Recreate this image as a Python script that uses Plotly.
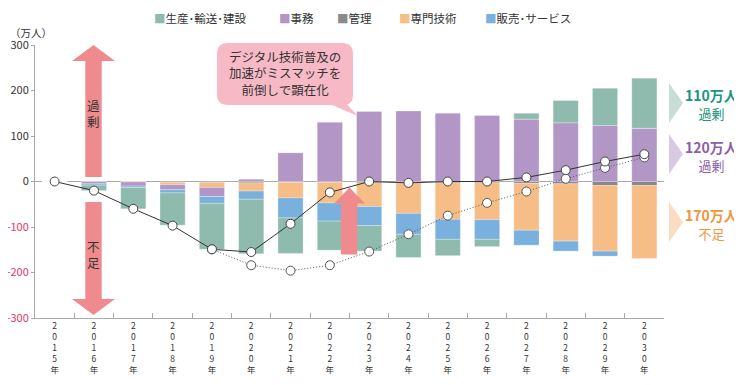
import plotly.graph_objects as go

years = [str(y) for y in range(2015, 2031)]
tick_text = ["<br>".join(list(y)) + "<br>年" for y in years]

# 万人, by occupation
seisan = [0, -12, -47, -71, -101, -120, -78, -64, -56, -51, -36, -16, 13, 49, 82, 110]
jimu = [0, -5, -9, -11, -20, 5, 63, 130, 154, 155, 150, 145, 137, 129, 123, 117]
kanri = [0, 0, 0, -2, -2, -3, -2, -2, -3, -3, -3, -3, -4, -5, -9, -9]
senmon = [0, 0, -1, -5, -11, -18, -34, -45, -52, -67, -80, -81, -103, -126, -144, -160]
hanbai = [0, -3, -3, -7, -15, -18, -44, -40, -42, -46, -44, -43, -33, -22, -11, 0]

total_line = [0, -20, -60, -97, -149, -155, -93, -24, 0, -3, 0, 0, 9, 25, 44, 60]
total_dotted = [None, None, None, None, -149, -184, -196, -184, -154, -116, -75, -47, -22, 6, 30, 53]

y_ticks = [-300, -200, -100, 0, 100, 200, 300]

C_GREEN = "#8fbbaf"
C_PURPLE = "#b196c6"
C_GRAY = "#8a8a8a"
C_ORANGE = "#f6bd86"
C_BLUE = "#79b0de"

FONT = "Noto Sans CJK JP"

# page body margin offset (the figure sits 8px in from the window corner)
OFF = 8
W, H = 742 - OFF, 377 - OFF
# plot area in window pixels: x 35..664, y 45..318
L, T = 35 - OFF, 45 - OFF
R = W - (664 - OFF)
B = H - (318 - OFF)
PW, PH = W - L - R, H - T - B


def px(x):
    return (x - OFF - L) / PW


def py(y):
    return (H - B - (y - OFF)) / PH


def path(points, close=True):
    s = ""
    for i, p in enumerate(points):
        if p[0] == "Q":
            s += " Q%.5f,%.5f %.5f,%.5f" % (px(p[1]), py(p[2]), px(p[3]), py(p[4]))
        else:
            s += (" M" if i == 0 else " L") + "%.5f,%.5f" % (px(p[0]), py(p[1]))
    return s + (" Z" if close else "")


fig = go.Figure()
bar_line = dict(color="rgba(255,255,255,0.45)", width=0.6)
for name, vals, col in [
    ("管理", kanri, C_GRAY),
    ("専門技術", senmon, C_ORANGE),
    ("事務", jimu, C_PURPLE),
    ("販売･サービス", hanbai, C_BLUE),
    ("生産･輸送･建設", seisan, C_GREEN),
]:
    fig.add_trace(go.Bar(x=years, y=vals, name=name, marker=dict(color=col, line=bar_line), showlegend=False))

fig.add_trace(go.Scatter(x=years, y=total_dotted, mode="lines+markers", showlegend=False,
                         line=dict(color="#555555", width=1, dash="1px,2px"),
                         marker=dict(size=9, color="white", line=dict(color="#555555", width=1))))
fig.add_trace(go.Scatter(x=years, y=total_line, mode="lines+markers", showlegend=False,
                         line=dict(color="#333333", width=1),
                         marker=dict(size=9, color="white", line=dict(color="#444444", width=1))))

shapes = []
RED = "#ef8b8e"
# big left double arrow
shapes.append(dict(type="path", xref="paper", yref="paper", line=dict(width=0), fillcolor=RED, layer="below",
                   path=path([(93.5, 45), (115, 61), (101.7, 61), (101.7, 177), (85.3, 177), (85.3, 61), (72, 61)])))
shapes.append(dict(type="path", xref="paper", yref="paper", line=dict(width=0), fillcolor=RED, layer="below",
                   path=path([(85.3, 202), (101.7, 202), (101.7, 299), (115, 299), (93.5, 315), (72, 299), (85.3, 299)])))
# small up arrow
shapes.append(dict(type="path", xref="paper", yref="paper", line=dict(width=0), fillcolor=RED, layer="above",
                   path=path([(349.5, 187.5), (365, 203.5), (357.3, 203.5), (357.3, 254.5), (341, 254.5), (341, 203.5), (334, 203.5)])))
# callout bubble
shapes.append(dict(type="path", xref="paper", yref="paper", line=dict(width=0), fillcolor="#f7b9c5", layer="above",
                   path=path([(228, 43), (342, 43), ("Q", 353, 43, 353, 54), (353, 95), ("Q", 353, 103, 347, 104.5),
                              (358, 116), (332, 105), (228, 105), ("Q", 217, 105, 217, 94), (217, 54),
                              ("Q", 217, 43, 228, 43)])))
# right triangles
for (y0, col) in [(83, "#c8ddd6"), (134, "#d9cae4"), (202, "#fcdcc0")]:
    shapes.append(dict(type="path", xref="paper", yref="paper", line=dict(width=0), fillcolor=col,
                       path=path([(669, y0), (683, y0 + 20), (669, y0 + 40)])))

ann = []
# custom legend
for x0, name, col in [(152, "生産･輸送･建設", C_GREEN), (277, "事務", C_PURPLE), (335, "管理", C_GRAY),
                      (397, "専門技術", C_ORANGE), (483, "販売･サービス", C_BLUE)]:
    ann.append(dict(xref="paper", yref="paper", x=px(x0), y=py(18), xanchor="left", yanchor="middle",
                    showarrow=False, text="<span style='color:%s'>■</span>%s" % (col, name),
                    font=dict(family=FONT, size=11.5, color="#333333")))
ann.append(dict(xref="paper", yref="paper", x=px(OFF), y=py(33), xanchor="left", yanchor="middle",
                showarrow=False, text="（万人）", font=dict(family=FONT, size=10.5, color="#333333")))
ann.append(dict(xref="paper", yref="paper", x=px(93.5), y=py(113), xanchor="center", yanchor="middle",
                showarrow=False, text="過<br>剰", font=dict(family=FONT, size=12.5, color="#333333")))
ann.append(dict(xref="paper", yref="paper", x=px(93.5), y=py(255), xanchor="center", yanchor="middle",
                showarrow=False, text="不<br>足", font=dict(family=FONT, size=12.5, color="#333333")))
ann.append(dict(xref="paper", yref="paper", x=px(285), y=py(73.5), xanchor="center", yanchor="middle",
                showarrow=False, text="デジタル技術普及の<br>加速がミスマッチを<br>前倒しで顕在化",
                font=dict(family=FONT, size=12.5, color="#333333")))
for yc, t1, t2, col in [(103.5, "110万人", "過剰", "#1a9480"), (155.5, "120万人", "過剰", "#8b5fa9"),
                        (223.5, "170万人", "不足", "#f0953c")]:
    ann.append(dict(xref="paper", yref="paper", x=px(711), y=py(yc), xanchor="center", yanchor="middle",
                    showarrow=False, text="<b>%s</b><br><span style='font-size:13px'>%s</span>" % (t1, t2),
                    font=dict(family=FONT, size=14, color=col)))

fig.update_layout(
    width=W, height=H, margin=dict(l=L, r=R, t=T, b=B, autoexpand=False),
    paper_bgcolor="white", plot_bgcolor="white",
    barmode="relative", bargap=0.36,
    font=dict(family=FONT, color="#333333"),
    shapes=shapes, annotations=ann, showlegend=False,
    xaxis=dict(type="category", range=[-0.5, 15.5], tickson="boundaries", ticks="inside", ticklen=5,
               tickcolor="#aaaaaa", showline=True, linecolor="#aaaaaa", linewidth=1, showgrid=False,
               automargin=False, tickvals=years, ticktext=tick_text,
               tickfont=dict(family=FONT, size=8.5, color="#333333"), tickangle=0),
    yaxis=dict(range=[-300, 300], tickvals=y_ticks, automargin=False,
               ticktext=[("<span style='color:#e8336a'>%d</span>" % v) if v < 0 else str(v) for v in y_ticks],
               ticks="outside", ticklen=3, tickcolor="#aaaaaa", showline=True, linecolor="#aaaaaa",
               showgrid=False, zeroline=True, zerolinecolor="#aaaaaa", zerolinewidth=1,
               tickfont=dict(family=FONT, size=11, color="#333333")),
)

fig.write_html("out.html")
